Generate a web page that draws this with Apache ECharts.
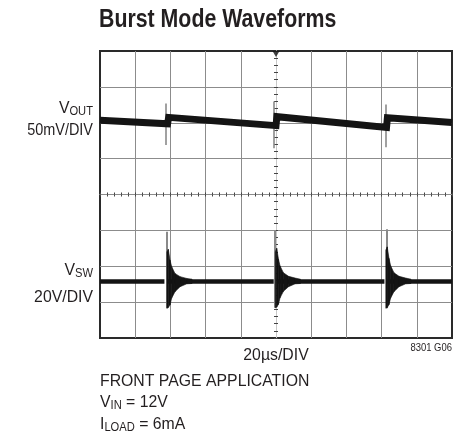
<!DOCTYPE html>
<html>
<head>
<meta charset="utf-8">
<script src="https://cdn.jsdelivr.net/npm/echarts@6/dist/echarts.min.js"></script>
<style>html,body{margin:0;padding:0;background:#fff}#c{width:465px;height:437px}</style>
</head>
<body>
<div id="c"></div>
<script>
// ---- data (time in µs from trigger, vertical in scope divisions from centre) ----
const titleText = 'Burst Mode Waveforms';
const voutLabel = ['V', 'OUT'];
const voutScale = '50mV/DIV';
const vswLabel = ['V', 'SW'];
const vswScale = '20V/DIV';
const timeScale = '20µs/DIV';
const noteLine1 = 'FRONT PAGE APPLICATION';
const noteLine2 = ['V', 'IN', ' = 12V'];
const noteLine3 = ['I', 'LOAD', ' = 6mA'];
const figId = '8301 G06';

const timeRange = [-100, 100];   // 10 divisions of 20µs
const divRange = [-4, 4];        // 8 vertical divisions

// VOUT trace (sawtooth with steps at each burst)
const voutTrace = [[-100, 2.07], [-61.6, 1.97], [-61.0, 2.15], [0.0, 1.92], [0.5, 2.17],
                   [62.8, 1.87], [63.3, 2.14], [100, 2.01]];
// VOUT spikes at each burst: [t, top, bottom]
const voutSpikes = [[-62.7, 2.54, 1.38], [-1.0, 2.59, 1.29], [62.3, 2.51, 1.32]];
// VSW baseline segments
const vswBaseline = [[[-100, -2.42], [-63.4, -2.42]], [[-61.4, -2.42], [-1.3, -2.42]],
                     [[0.4, -2.42], [61.6, -2.42]], [[63.2, -2.42], [100, -2.42]]];
// VSW switching spikes: [t, top, bottom]
const vswSpikes = [[-62.1, -1.04, -3.17], [-0.6, -0.99, -3.16], [62.9, -0.97, -3.17]];
// VSW ringing envelopes: [t, upper, lower]
const ring1 = [[-62.0, -1.60, -3.17], [-61.2, -1.53, -3.15], [-60.2, -1.83, -3.08], [-59.3, -2.01, -2.89],
               [-57.4, -2.20, -2.71], [-54.5, -2.29, -2.57], [-50.7, -2.34, -2.49], [-47.7, -2.36, -2.48]];
const ring2 = [[-0.4, -1.60, -3.16], [0.4, -1.50, -3.14], [1.4, -1.80, -3.06], [2.3, -1.99, -2.88],
               [4.2, -2.18, -2.70], [7.1, -2.28, -2.57], [10.9, -2.33, -2.49], [13.9, -2.36, -2.48]];
const ring3 = [[62.4, -1.55, -3.17], [63.2, -1.46, -3.15], [64.2, -1.78, -3.07], [65.1, -1.98, -2.89],
               [67.0, -2.18, -2.71], [69.9, -2.28, -2.57], [73.7, -2.33, -2.49], [76.7, -2.36, -2.48]];
const triggerMark = [[0, 4]];

// ---- rendering ----
const chart = echarts.init(document.getElementById('c'), null, {renderer: 'canvas'});
const FONT = '"Liberation Sans", Arial, sans-serif';
const SX = 0.93;
const mctx = document.createElement('canvas').getContext('2d');
function tw(s, font) { mctx.font = font; return mctx.measureText(s).width; }

// parts: [text, size, dy]
function textRun(parts, anchor, ax, cy, sx, bold, color) {
  const fonts = parts.map(p => (bold ? 'bold ' : '') + p[1] + 'px ' + FONT);
  const widths = parts.map((p, i) => tw(p[0], fonts[i]) * sx);
  const total = widths.reduce((a, b) => a + b, 0);
  let x = anchor === 'right' ? ax - total : anchor === 'center' ? ax - total / 2 : ax;
  const out = [];
  parts.forEach((p, i) => {
    out.push({type: 'text', x: x, y: cy + p[2], scaleX: sx, silent: true,
      style: {text: p[0], font: fonts[i], fill: color || '#231f20', textAlign: 'left', textVerticalAlign: 'middle'}});
    x += widths[i];
  });
  return out;
}

const SUB = 12, MAIN = 17, SUBDY = 4;
let graphics = [];
graphics = graphics.concat(textRun([[titleText, 26, 0]], 'left', 99, 19.6, 0.82, true));
graphics = graphics.concat(textRun([[voutLabel[0], MAIN, 0], [voutLabel[1], SUB, SUBDY]], 'right', 93, 108, SX));
graphics = graphics.concat(textRun([[voutScale, MAIN, 0]], 'right', 93, 130, 0.85));
graphics = graphics.concat(textRun([[vswLabel[0], MAIN, 0], [vswLabel[1], SUB, SUBDY]], 'right', 93, 270, SX));
graphics = graphics.concat(textRun([[vswScale, MAIN, 0]], 'right', 93, 297, SX));
graphics = graphics.concat(textRun([[timeScale, MAIN, 0]], 'center', 276, 355, SX));
graphics = graphics.concat(textRun([[figId, 11, 0]], 'right', 452, 348, 0.86));
graphics = graphics.concat(textRun([[noteLine1, MAIN, 0]], 'left', 100, 381, SX));
graphics = graphics.concat(textRun([[noteLine2[0], MAIN, 0], [noteLine2[1], SUB, SUBDY], [noteLine2[2], MAIN, 0]], 'left', 100, 402, SX));
graphics = graphics.concat(textRun([[noteLine3[0], MAIN, 0], [noteLine3[1], SUB, SUBDY], [noteLine3[2], MAIN, 0]], 'left', 100, 424, SX));

const G = '#8c8c8c';
function splitColors(n) { const a = []; for (let i = 0; i < n; i++) a.push(i === 0 || i === n - 1 ? 'transparent' : G); return a; }
const xSplit = splitColors(11); xSplit[5] = '#d0d0d0';
const ySplit = splitColors(9);

function xAx(inside, main) {
  return {type: 'value', min: timeRange[0], max: timeRange[1], interval: 20, position: 'bottom',
    axisLine: {show: true, onZero: true, onZeroAxisIndex: 0, lineStyle: {color: G, width: 1}},
    axisTick: {show: true, inside: inside, length: 2, lineStyle: {color: '#444'}},
    minorTick: {show: true, splitNumber: 5, length: 2, lineStyle: {color: '#444'}},
    axisLabel: {show: false},
    splitLine: {show: main, lineStyle: {color: xSplit, width: 1}}};
}
function yAx(inside, main) {
  return {type: 'value', min: divRange[0], max: divRange[1], interval: 1, position: 'left',
    axisLine: {show: true, onZero: true, onZeroAxisIndex: 0, lineStyle: {color: '#c8c8c8', width: 1}},
    axisTick: {show: true, inside: inside, length: 2, lineStyle: {color: '#444'}},
    minorTick: {show: true, splitNumber: 5, length: 2, lineStyle: {color: '#444'}},
    axisLabel: {show: false},
    splitLine: {show: main, lineStyle: {color: ySplit, width: 1}}};
}

function ringSeries(arr) {
  return {type: 'custom', xAxisIndex: 0, yAxisIndex: 0, data: arr, encode: {x: 0, y: [1, 2]}, z: 5, silent: true,
    renderItem: function (params, api) {
      const i = params.dataIndex;
      if (i >= arr.length - 1) return null;
      const p = arr[i], q = arr[i + 1];
      return {type: 'polygon', shape: {points: [api.coord([p[0], p[1]]), api.coord([q[0], q[1]]),
        api.coord([q[0], q[2]]), api.coord([p[0], p[2]])]}, style: {fill: '#141414', stroke: '#141414', lineWidth: 0.6}};
    }};
}
function spikeLines(arr) {
  return arr.map(s => ({coords: [[s[0], s[1]], [s[0], s[2]]]}));
}

chart.setOption({
  animation: false,
  grid: {left: 100, top: 51, width: 352, height: 287, show: true, borderColor: '#2a2a2a', borderWidth: 2, backgroundColor: '#fff'},
  xAxis: [xAx(false, true), xAx(true, false)],
  yAxis: [yAx(false, true), yAx(true, false)],
  graphic: graphics,
  series: [
    {type: 'lines', coordinateSystem: 'cartesian2d', data: spikeLines(voutSpikes), z: 3, silent: true,
     lineStyle: {color: '#8a8a8a', width: 1.6, opacity: 1}},
    {type: 'lines', coordinateSystem: 'cartesian2d', data: spikeLines(vswSpikes), z: 3, silent: true,
     lineStyle: {color: '#8a8a8a', width: 2, opacity: 1}},
    {type: 'line', data: voutTrace, symbol: 'none', z: 4, silent: true,
     lineStyle: {color: '#141414', width: 7, join: 'miter'}},
    {type: 'lines', coordinateSystem: 'cartesian2d', data: vswBaseline.map(c => ({coords: c})), z: 4, silent: true,
     lineStyle: {color: '#141414', width: 4.5, opacity: 1}},
    ringSeries(ring1), ringSeries(ring2), ringSeries(ring3),
    {type: 'scatter', data: triggerMark, symbol: 'triangle', symbolRotate: 180, symbolSize: [7, 6],
     symbolOffset: [0, 3], clip: false, z: 6, silent: true, itemStyle: {color: '#111'}}
  ]
});
</script>
</body>
</html>
